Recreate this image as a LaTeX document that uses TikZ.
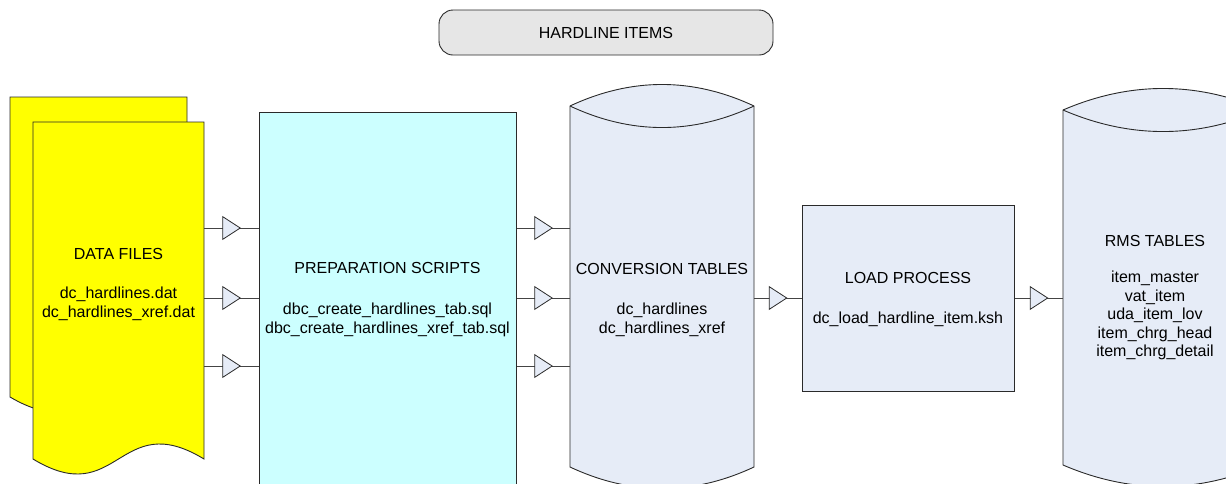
\documentclass[tikz,border=0pt]{standalone}
\usepackage{fontspec}
\setmainfont{Liberation Sans}
\usetikzlibrary{decorations.markings,fit}
\definecolor{docyellow}{HTML}{FFFF00}
\definecolor{prepfill}{HTML}{CCFFFF}
\definecolor{dbfill}{HTML}{E6ECF7}
\definecolor{titlefill}{HTML}{E6E6E6}
\definecolor{edgecol}{HTML}{2A2A2A}
\definecolor{wire}{HTML}{444444}
\begin{document}
\begin{tikzpicture}[x=1pt,y=-1pt,
  outline/.style={draw=edgecol, line width=0.9pt},
  lbl/.style={font=\fontsize{16}{18.5}\selectfont, align=center, inner sep=0pt},
  anchorbox/.style={inner sep=0pt, outer sep=0pt, draw=none},
  flow/.style={draw=wire, line width=0.9pt, postaction={decorate},
    decoration={markings, mark=at position 0.5 with {\draw[draw=edgecol, fill=dbfill, line width=0.8pt, line join=miter] (-8.7,-11.3) -- (8.7,0) -- (-8.7,11.3) -- cycle;}}}
]
\fill[white] (0,0) rectangle (1226,483);
\useasboundingbox (0,0) rectangle (1226,483);

% title
\node[outline, fill=titlefill, rounded corners=14pt, minimum width=334pt, minimum height=45pt, inner sep=0pt, font=\fontsize{16}{18.5}\selectfont] (title) at (606,32.5) {HARDLINE ITEMS};

% data files (two stacked documents)
\draw[outline, fill=docyellow] (10,97) -- (187,97) -- (187,397) .. controls (98.5,345) and (98.5,449) .. (10,397) -- cycle;
\draw[outline, fill=docyellow] (33,122) -- (204,122) -- (204,459) .. controls (118.5,407) and (118.5,511) .. (33,459) -- cycle;
\node[anchorbox, fit={(33,122) (204,459)}] (data) {};
\node[lbl, font=\fontsize{16}{19.5}\selectfont] (datatext) at (118.5,284.5) {DATA FILES\\[19.5pt]dc\_hardlines.dat\\dc\_hardlines\_xref.dat};

% preparation scripts
\node[outline, fill=prepfill, minimum width=257pt, minimum height=400pt, inner sep=0pt, anchor=north west] (prep) at (259,112) {};
\node[lbl] (preptext) at (387.5,299.5) {PREPARATION SCRIPTS\\[22.5pt]dbc\_create\_hardlines\_tab.sql\\dbc\_create\_hardlines\_xref\_tab.sql};

% conversion tables cylinder
\draw[outline, fill=dbfill] (570,106) -- (570,467) .. controls (631.3,495.7) and (692.7,495.7) .. (754,467) -- (754,106) .. controls (692.7,77.3) and (631.3,77.3) .. (570,106) -- cycle;
\draw[outline] (570,106) .. controls (631.3,134.7) and (692.7,134.7) .. (754,106);
\node[anchorbox, fit={(570,106) (754,467)}] (conv) {};
\node[lbl] (convtext) at (662,300) {CONVERSION TABLES\\[21.5pt]dc\_hardlines\\dc\_hardlines\_xref};

% load process
\node[outline, fill=dbfill, minimum width=212pt, minimum height=186pt, inner sep=0pt, anchor=north west] (load) at (802,205) {};
\node[lbl] (loadtext) at (908,299) {LOAD PROCESS\\[21.5pt]dc\_load\_hardline\_item.ksh};

% rms tables cylinder
\draw[outline, fill=dbfill] (1063,110) -- (1063,465) .. controls (1129.7,493.7) and (1196.3,493.7) .. (1263,465) -- (1263,110) .. controls (1196.3,81.3) and (1129.7,81.3) .. (1063,110) -- cycle;
\draw[outline] (1063,110) .. controls (1129.7,138.7) and (1196.3,138.7) .. (1263,110);
\node[anchorbox, fit={(1063,110) (1263,465)}] (rms) {};
\node[lbl] (rmstext) at (1155,298) {RMS TABLES\\[17.5pt]item\_master\\vat\_item\\uda\_item\_lov\\item\_chrg\_head\\item\_chrg\_detail};

% connectors
\coordinate (rowA) at (0,228);
\coordinate (rowB) at (0,298);
\coordinate (rowC) at (0,366);
\draw[flow] (data.east |- rowA) -- (prep.west |- rowA);
\draw[flow] (data.east |- rowB) -- (prep.west |- rowB);
\draw[flow] (data.east |- rowC) -- (prep.west |- rowC);
\draw[flow] (prep.east |- rowA) -- (conv.west |- rowA);
\draw[flow] (prep.east |- rowB) -- (conv.west |- rowB);
\draw[flow] (prep.east |- rowC) -- (conv.west |- rowC);
\draw[flow] (conv.east |- rowB) -- (load.west |- rowB);
\draw[flow] (load.east |- rowB) -- (rms.west |- rowB);
\end{tikzpicture}
\end{document}
